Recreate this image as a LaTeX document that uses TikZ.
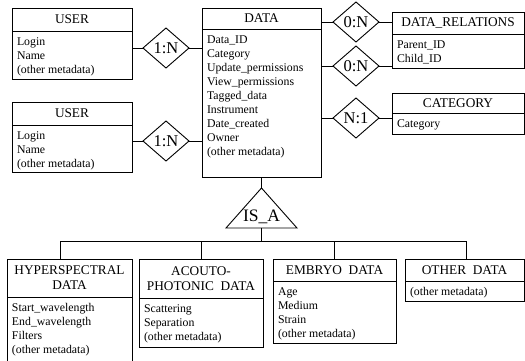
\documentclass[tikz,border=0pt]{standalone}
\usepackage{fontspec}
\setmainfont{Liberation Serif}
\usetikzlibrary{shapes.geometric,calc}
\newcommand{\bodyfont}{\fontsize{11.8pt}{14pt}\selectfont}
\newcommand{\entity}[8]{%
  \node[hdr, minimum width=#4pt, minimum height=#5pt, anchor=north west] (#1) at (#2,#3) {#7};
  \node[bodyn, anchor=north west] (#1b) at (#1.south west)
    {\parbox[t][#6pt][t]{\dimexpr#4pt-10pt\relax}{\bodyfont\rule{0pt}{14.5pt}#8}};
}
\tikzset{
  ln/.style={line width=0.9pt, draw=black},
  hdr/.style={draw, ln, rectangle, inner sep=0pt, outer sep=0pt, align=center,
    font=\fontsize{13.3pt}{15pt}\selectfont},
  bodyn/.style={draw, ln, rectangle, inner xsep=5pt, inner ysep=0pt, outer sep=0pt},
  dia/.style={draw, ln, diamond, minimum width=46pt, minimum height=40pt,
    inner sep=0pt, outer sep=0pt, font=\fontsize{16.5pt}{18pt}\selectfont},
  isafont/.style={font=\fontsize{17.5pt}{19pt}\selectfont, inner sep=0pt},
}
\begin{document}
\begin{tikzpicture}[x=1pt, y=-1pt]
\clip (0,0) rectangle (525,360);
% entities
\entity{user1}{12}{8}{120}{23}{48}{USER}{Login\\Name\\(other metadata)}
\entity{user2}{12}{102}{120}{23}{47}{USER}{Login\\Name\\(other metadata)}
\entity{data}{202}{8}{119}{21}{148}{DATA}{Data\_ID\\Category\\Update\_permissions\\View\_permissions\\Tagged\_data\\Instrument\\Date\_created\\Owner\\(other metadata)}
\entity{drel}{392}{12}{132}{22}{34}{DATA\_RELATIONS}{Parent\_ID\\Child\_ID}
\entity{cat}{392}{93}{132}{20}{21}{CATEGORY}{Category}
\entity{hyp}{7}{259}{125}{38}{70}{HYPERSPECTRAL\\DATA}{Start\_wavelength\\End\_wavelength\\Filters\\(other metadata)}
\entity{aco}{139}{259}{124}{39}{49}{ACOUTO-\\PHOTONIC\enspace DATA}{Scattering\\Separation\\(other metadata)}
\entity{emb}{273}{259}{123}{22}{62}{EMBRYO\enspace DATA}{Age\\Medium\\Strain\\(other metadata)}
\entity{oth}{405}{259}{119}{22}{20}{OTHER\enspace DATA}{(other metadata)}
% relationships
\node[dia] (d1) at (166,48) {1:N};
\node[dia] (d2) at (166,141) {1:N};
\node[dia] (d3) at (356,22) {0:N};
\node[dia] (d4) at (356,66) {0:N};
\node[dia] (d5) at (356,118) {N:1};
\draw[ln] (user1b.east |- d1) -- (d1.west);
\draw[ln] (d1.east) -- (datab.west |- d1);
\draw[ln] (user2b.east |- d2) -- (d2.west);
\draw[ln] (d2.east) -- (datab.west |- d2);
\draw[ln] (data.east |- d3) -- (d3.west);
\draw[ln] (d3.east) -- (drel.west |- d3);
\draw[ln] (datab.east |- d4) -- (d4.west);
\draw[ln] (d4.east) -- (drelb.west |- d4);
\draw[ln] (datab.east |- d5) -- (d5.west);
\draw[ln] (d5.east) -- (catb.west |- d5);
% IS_A
\coordinate (isatop) at ($(datab.south)+(0,11)$);
\coordinate (isal) at ($(isatop)+(-35.5,40)$);
\coordinate (isar) at ($(isatop)+(35.5,40)$);
\coordinate (isabot) at ($(isatop)+(0,40)$);
\draw[ln] (isatop) -- (isal) -- (isar) -- cycle;
\node[isafont, anchor=base] (isa) at ($(isatop)+(0,33)$) {IS\_A};
\draw[ln] (datab.south) -- (isatop);
\coordinate (bus) at ($(isabot)+(0,13)$);
\coordinate (hypt) at ($(hyp.north)+(-9,0)$);
\coordinate (otht) at ($(oth.north)+(2,0)$);
\draw[ln] (isabot) -- (bus);
\draw[ln] (hypt) -- (hypt |- bus) -- (otht |- bus) -- (otht);
\draw[ln] (aco.north) -- (aco.north |- bus);
\draw[ln] (emb.north) -- (emb.north |- bus);
\end{tikzpicture}
\end{document}
